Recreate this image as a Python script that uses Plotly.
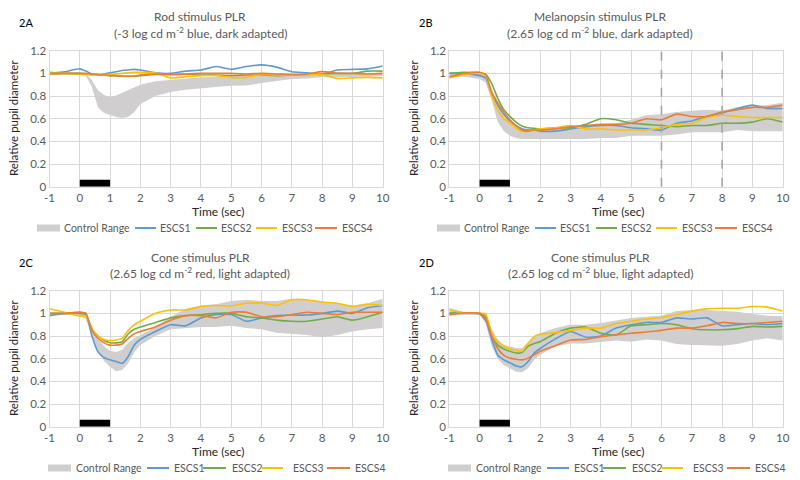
import plotly.graph_objects as go
from plotly.subplots import make_subplots

# time axis (sec), shared by all panels
t = [-1, -0.5, 0, 0.2, 0.4, 0.6, 0.8, 1.0, 1.2, 1.4, 1.6, 1.8, 2.0,
     2.5, 3.0, 3.5, 4.0, 4.5, 5.0, 5.5, 6.0, 6.5, 7.0, 7.5, 8.0, 8.5, 9.0, 9.5, 10.0]

# 2A rod stimulus
rod_lo = [0.985, 0.99, 0.985, 0.98, 0.88, 0.70, 0.65, 0.635, 0.615, 0.607, 0.615, 0.66, 0.73,
          0.80, 0.835, 0.855, 0.87, 0.88, 0.89, 0.893, 0.915, 0.935, 0.95, 0.955, 0.965, 0.965, 0.97, 0.97, 0.975]
rod_hi = [1.0, 1.0, 1.0, 0.995, 0.94, 0.85, 0.81, 0.79, 0.805, 0.83, 0.855, 0.88, 0.90,
          0.93, 0.945, 0.955, 0.965, 0.97, 0.975, 0.98, 0.985, 0.985, 0.99, 0.99, 0.99, 0.99, 0.99, 0.995, 0.995]
rod_escs1 = [1.0, 1.015, 1.04, 1.02, 0.995, 0.985, 0.995, 1.005, 1.015, 1.025, 1.03, 1.035, 1.03,
             1.005, 1.0, 1.02, 1.03, 1.06, 1.035, 1.06, 1.075, 1.055, 1.015, 1.005, 0.99, 1.03, 1.035, 1.04, 1.065]
rod_escs2 = [1.01, 1.0, 1.0, 0.995, 0.99, 0.99, 0.985, 0.98, 0.98, 0.975, 0.975, 0.975, 0.98,
             0.99, 0.99, 0.99, 0.985, 0.985, 0.98, 0.985, 0.985, 0.98, 0.985, 0.99, 0.995, 1.0, 1.0, 1.02, 1.02]
rod_escs3 = [1.0, 1.0, 0.995, 0.99, 0.985, 0.985, 0.99, 0.99, 0.995, 1.0, 1.005, 1.01, 1.01,
             1.005, 0.96, 0.97, 0.98, 0.98, 0.965, 0.965, 0.99, 0.985, 0.985, 0.99, 0.99, 0.955, 0.96, 0.965, 0.96]
rod_escs4 = [0.995, 1.0, 1.0, 1.0, 0.995, 0.99, 0.985, 0.98, 0.98, 0.975, 0.975, 0.975, 0.985,
             0.995, 0.99, 0.995, 1.0, 1.0, 1.0, 0.995, 1.0, 0.995, 0.99, 0.995, 1.015, 1.0, 1.0, 0.995, 1.0]

# 2B melanopsin stimulus
mel_lo = [0.97, 0.97, 0.95, 0.92, 0.76, 0.57, 0.49, 0.45, 0.43, 0.42, 0.42, 0.42, 0.42,
          0.42, 0.415, 0.42, 0.43, 0.43, 0.45, 0.45, 0.45, 0.46, 0.48, 0.48, 0.48, 0.50, 0.49, 0.49, 0.49]
mel_hi = [1.01, 1.01, 1.01, 0.99, 0.86, 0.74, 0.64, 0.58, 0.54, 0.52, 0.51, 0.50, 0.50,
          0.51, 0.52, 0.54, 0.55, 0.56, 0.59, 0.63, 0.64, 0.66, 0.67, 0.68, 0.67, 0.70, 0.71, 0.72, 0.74]
mel_escs1 = [1.0, 1.0, 0.98, 0.96, 0.82, 0.72, 0.64, 0.58, 0.54, 0.51, 0.50, 0.50, 0.49,
             0.49, 0.51, 0.53, 0.54, 0.54, 0.52, 0.51, 0.50, 0.56, 0.58, 0.62, 0.65, 0.69, 0.72, 0.69, 0.69]
mel_escs2 = [1.0, 1.01, 1.0, 0.99, 0.91, 0.78, 0.68, 0.62, 0.57, 0.535, 0.52, 0.515, 0.51,
             0.52, 0.52, 0.55, 0.60, 0.59, 0.56, 0.55, 0.54, 0.53, 0.54, 0.54, 0.56, 0.56, 0.57, 0.60, 0.57]
mel_escs3 = [0.96, 0.99, 1.0, 0.98, 0.80, 0.68, 0.60, 0.56, 0.52, 0.49, 0.49, 0.50, 0.51,
             0.52, 0.54, 0.51, 0.51, 0.50, 0.50, 0.50, 0.52, 0.55, 0.56, 0.61, 0.63, 0.62, 0.61, 0.61, 0.61]
mel_escs4 = [0.97, 1.0, 1.01, 0.99, 0.83, 0.74, 0.66, 0.59, 0.54, 0.50, 0.49, 0.50, 0.50,
             0.51, 0.53, 0.54, 0.55, 0.55, 0.56, 0.60, 0.59, 0.64, 0.62, 0.62, 0.66, 0.68, 0.70, 0.70, 0.72]

# 2C cone stimulus, red
red_lo = [0.99, 0.99, 0.98, 0.95, 0.80, 0.66, 0.58, 0.53, 0.49, 0.50, 0.56, 0.66, 0.72,
          0.80, 0.86, 0.87, 0.88, 0.88, 0.89, 0.87, 0.86, 0.83, 0.82, 0.81, 0.79, 0.81, 0.84, 0.86, 0.87]
red_hi = [1.0, 1.0, 1.0, 0.99, 0.88, 0.78, 0.71, 0.67, 0.66, 0.68, 0.74, 0.78, 0.81,
          0.88, 0.97, 1.04, 1.07, 1.08, 1.11, 1.12, 1.11, 1.11, 1.13, 1.12, 1.10, 1.09, 1.07, 1.09, 1.13]
red_escs1 = [0.98, 1.0, 1.01, 1.0, 0.80, 0.66, 0.61, 0.59, 0.575, 0.56, 0.62, 0.72, 0.77,
             0.84, 0.90, 0.89, 0.96, 0.99, 0.99, 0.93, 0.96, 0.98, 0.985, 0.985, 1.0, 1.02, 1.0, 1.05, 1.07]
red_escs2 = [1.0, 1.0, 1.0, 0.99, 0.86, 0.80, 0.76, 0.74, 0.74, 0.75, 0.82, 0.86, 0.88,
             0.92, 0.96, 0.98, 0.99, 1.0, 1.0, 0.97, 0.96, 0.94, 0.93, 0.93, 0.95, 0.97, 0.94, 0.97, 1.01]
red_escs3 = [1.04, 1.01, 0.975, 0.98, 0.87, 0.80, 0.77, 0.76, 0.765, 0.78, 0.85, 0.90, 0.93,
             1.0, 1.03, 1.03, 1.06, 1.07, 1.065, 1.09, 1.09, 1.07, 1.12, 1.12, 1.10, 1.09, 1.06, 1.08, 1.07]
red_escs4 = [1.0, 1.0, 1.01, 1.0, 0.85, 0.78, 0.74, 0.72, 0.72, 0.73, 0.78, 0.82, 0.84,
             0.88, 0.94, 0.98, 0.98, 0.96, 1.01, 1.01, 0.97, 0.97, 0.99, 1.01, 1.0, 0.99, 1.01, 1.01, 1.01]

# 2D cone stimulus, blue
blue_lo = [0.985, 0.985, 0.985, 0.91, 0.71, 0.60, 0.545, 0.515, 0.485, 0.48, 0.515, 0.59, 0.635,
           0.71, 0.735, 0.735, 0.75, 0.76, 0.75, 0.77, 0.76, 0.73, 0.72, 0.72, 0.715, 0.73, 0.76, 0.78, 0.76]
blue_hi = [1.05, 1.01, 1.005, 0.99, 0.86, 0.77, 0.72, 0.705, 0.695, 0.695, 0.75, 0.80, 0.825,
           0.87, 0.90, 0.90, 0.915, 0.94, 0.96, 0.97, 0.98, 1.02, 1.03, 1.03, 1.02, 1.015, 0.995, 0.98, 0.975]
blue_escs1 = [1.0, 1.005, 0.995, 0.94, 0.77, 0.63, 0.59, 0.565, 0.535, 0.53, 0.575, 0.65, 0.69,
              0.775, 0.84, 0.79, 0.80, 0.87, 0.90, 0.92, 0.92, 0.96, 0.95, 0.96, 0.89, 0.90, 0.91, 0.90, 0.91]
blue_escs2 = [1.0, 1.005, 1.0, 0.97, 0.80, 0.72, 0.685, 0.665, 0.65, 0.655, 0.71, 0.735, 0.75,
              0.825, 0.87, 0.88, 0.825, 0.81, 0.89, 0.90, 0.91, 0.90, 0.865, 0.855, 0.855, 0.865, 0.885, 0.88, 0.885]
blue_escs3 = [1.03, 1.005, 1.0, 0.995, 0.825, 0.75, 0.71, 0.685, 0.675, 0.665, 0.735, 0.795, 0.815,
              0.83, 0.85, 0.87, 0.87, 0.91, 0.93, 0.95, 0.965, 0.99, 1.02, 1.04, 1.045, 1.045, 1.06, 1.055, 1.02]
blue_escs4 = [0.985, 1.005, 1.0, 0.955, 0.80, 0.69, 0.63, 0.605, 0.595, 0.59, 0.605, 0.635, 0.665,
              0.715, 0.765, 0.77, 0.795, 0.81, 0.825, 0.835, 0.85, 0.87, 0.87, 0.89, 0.92, 0.91, 0.91, 0.92, 0.93]

stim_t = [0, 1]          # light stimulus on
stim_level = [0.03, 0.03]
mel_marks = [6, 8]       # dashed markers on 2B

x_ticks = list(range(-1, 11))
x_tick_text = [str(v) for v in x_ticks]

legend_names = ["Control Range", "ESCS1", "ESCS2", "ESCS3", "ESCS4"]
series_colors = ["#5B9BD5", "#70AD47", "#FFC000", "#ED7D31"]
ctrl_color = "#D0CECE"

panels = [
    ("2A", "Rod stimulus PLR", "(-3 log cd m<sup>-2</sup> blue, dark adapted)",
     rod_lo, rod_hi, [rod_escs1, rod_escs2, rod_escs3, rod_escs4]),
    ("2B", "Melanopsin stimulus PLR", "(2.65 log cd m<sup>-2</sup> blue, dark adapted)",
     mel_lo, mel_hi, [mel_escs1, mel_escs2, mel_escs3, mel_escs4]),
    ("2C", "Cone stimulus PLR", "(2.65 log cd m<sup>-2</sup> red, light adapted)",
     red_lo, red_hi, [red_escs1, red_escs2, red_escs3, red_escs4]),
    ("2D", "Cone stimulus PLR", "(2.65 log cd m<sup>-2</sup> blue, light adapted)",
     blue_lo, blue_hi, [blue_escs1, blue_escs2, blue_escs3, blue_escs4]),
]

# page body has an 8px margin, so the figure is drawn 8px smaller and all
# pixel positions below are given in window coordinates, shifted by OFF
OFF = 8
W, H = 800 - OFF, 480 - OFF
FONT = "Lato"


def px_x(p):
    return (p - OFF) / W


def px_y(p):
    return 1 - (p - OFF) / H


xdom = [[px_x(49.5), px_x(382.7)], [px_x(449.3), px_x(782.7)]]
ydom = [[px_y(186.7), px_y(50.7)], [px_y(426.7), px_y(290.7)]]
# hand-made legend: (line start, line end, text start) in px within a panel
leg_slots = {1: [(37, 60, 62), (135, 156, 158), (196, 217, 219), (256, 277, 280), (315, 337, 340)],
             2: [(48, 71, 74), (147, 169, 172), (203, 226, 230), (262, 283, 291), (327, 350, 353)]}


def note(fig, px, py, text, size, color, **kw):
    fig.add_annotation(x=px_x(px), y=px_y(py), xref="paper", yref="paper", text=text,
                       showarrow=False, yanchor="middle", font=dict(size=size, color=color), **kw)


fig = make_subplots(rows=2, cols=2)

for i, (tag, title, sub, lo, hi, lines) in enumerate(panels):
    row, col = i // 2 + 1, i % 2 + 1
    fig.add_trace(go.Scatter(x=t, y=lo, mode="lines", line=dict(width=0, color=ctrl_color),
                             hoverinfo="skip"), row=row, col=col)
    fig.add_trace(go.Scatter(x=t, y=hi, mode="lines", line=dict(width=0, color=ctrl_color),
                             fill="tonexty", fillcolor=ctrl_color, hoverinfo="skip"), row=row, col=col)
    for name, color, y in zip(legend_names[1:], series_colors, lines):
        fig.add_trace(go.Scatter(x=t, y=y, mode="lines", name=name,
                                 line=dict(color=color, width=1.6, shape="spline", smoothing=0.5)),
                      row=row, col=col)
    fig.add_trace(go.Scatter(x=stim_t, y=stim_level, mode="lines",
                             line=dict(color="black", width=7)), row=row, col=col)

    ox, oy = (col - 1) * 400, (row - 1) * 240
    note(fig, ox + 200, oy + 17, title, 12, "#595959", xanchor="center")
    note(fig, ox + 200, oy + 33, sub, 12, "#595959", xanchor="center")
    note(fig, ox + 17, oy + 22, tag, 11, "black", xanchor="left")
    note(fig, ox + 13, oy + 118, "Relative pupil diameter", 11.5, "#262626",
         xanchor="center", textangle=-90)
    note(fig, ox + 218, oy + 211, "Time (sec)", 12, "#262626", xanchor="center")

    ly = oy + 228
    for k, (x0, x1, xt) in enumerate(leg_slots[row]):
        color = ctrl_color if k == 0 else series_colors[k - 1]
        fig.add_shape(type="line", xref="paper", yref="paper", x0=px_x(ox + x0), x1=px_x(ox + x1),
                      y0=px_y(ly), y1=px_y(ly), line=dict(color=color, width=7 if k == 0 else 2))
        note(fig, ox + xt, ly, legend_names[k], 10.5, "#595959", xanchor="left")

    fig.update_xaxes(range=[-1, 10], tickvals=x_ticks, ticktext=x_tick_text, domain=xdom[col - 1],
                     gridcolor="#D9D9D9", showline=True, linecolor="#D9D9D9", mirror=True,
                     zeroline=False, ticks="", automargin=False,
                     tickfont=dict(size=11.5, color="#595959"), row=row, col=col)
    fig.update_yaxes(range=[0, 1.2], dtick=0.2, domain=ydom[row - 1], gridcolor="#D9D9D9",
                     showline=True, linecolor="#D9D9D9", mirror=True, zeroline=False, ticks="",
                     automargin=False, tickfont=dict(size=11.5, color="#595959"), row=row, col=col)

for m in mel_marks:
    fig.add_vline(x=m, row=1, col=2, line=dict(color="#A5A5A5", width=1.6, dash="dash"))

fig.update_layout(width=W, height=H, margin=dict(l=0, r=0, t=0, b=0), showlegend=False,
                  plot_bgcolor="white", paper_bgcolor="white",
                  font=dict(family=FONT, color="#595959"))

fig.write_html("out.html")
